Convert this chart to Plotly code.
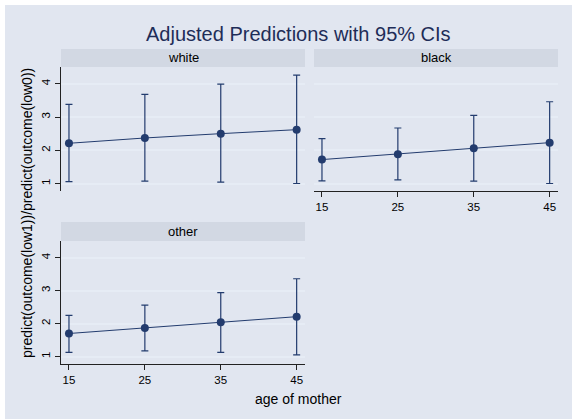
import plotly.graph_objects as go

# ---- data ----
ages = [15, 25, 35, 45]
panels = ["white", "black", "other"]
white_pred = [2.21, 2.37, 2.50, 2.62]
white_hi = [3.38, 3.68, 3.99, 4.26]
white_lo = [1.06, 1.07, 1.04, 1.00]
black_pred = [1.72, 1.88, 2.06, 2.23]
black_hi = [2.35, 2.67, 3.05, 3.46]
black_lo = [1.08, 1.11, 1.07, 1.00]
other_pred = [1.70, 1.87, 2.04, 2.21]
other_hi = [2.25, 2.56, 2.94, 3.36]
other_lo = [1.13, 1.17, 1.13, 1.05]
x_ticks = [15, 25, 35, 45]
y_ticks = [1, 2, 3, 4]

W, H = 573, 419
NAVY = "#233C6E"
BG = "#E1E6F0"
STRIP = "#D2D8E3"
GRID = "#E6ECF5"
FONT = "Liberation Sans"

def px(v):
    return v / W

def py(v):
    return 1 - v / H

fig = go.Figure()

series = [(white_pred, white_hi, white_lo), (black_pred, black_hi, black_lo), (other_pred, other_hi, other_lo)]
for i, (pred, hi, lo) in enumerate(series):
    n = "" if i == 0 else str(i + 1)
    fig.add_trace(go.Scatter(
        x=ages, y=pred, mode="lines+markers",
        line=dict(color=NAVY, width=1),
        marker=dict(color=NAVY, size=8),
        error_y=dict(type="data", symmetric=False,
                     array=[h - p for h, p in zip(hi, pred)],
                     arrayminus=[p - l for p, l in zip(pred, lo)],
                     color=NAVY, thickness=1.2, width=3.5),
        xaxis="x" + n, yaxis="y" + n, showlegend=False, hoverinfo="skip"))

xdom_left = [px(61), px(305)]
xdom_right = [px(314), px(558)]
ydom_top = [py(191), py(67)]
ydom_bot = [py(364), py(241)]
xr = [13.95, 46.1]
yr = [0.775, 4.505]

common_y = dict(range=yr, tickvals=y_ticks, gridcolor=GRID, gridwidth=1.5,
                zeroline=False, tickangle=-90,
                tickfont=dict(family=FONT, size=11.5, color="black"))
common_x = dict(range=xr, tickvals=x_ticks, showgrid=False, zeroline=False,
                tickfont=dict(family=FONT, size=11.5, color="black"))

axis_line = dict(showline=True, linecolor="#222222", linewidth=1,
                 ticks="outside", ticklen=5, tickcolor="#222222", tickwidth=1)

fig.update_layout(
    width=W, height=H,
    margin=dict(l=0, r=0, t=0, b=0),
    paper_bgcolor="white", plot_bgcolor="white",
    xaxis=dict(domain=xdom_left, anchor="y", showticklabels=False, **common_x),
    yaxis=dict(domain=ydom_top, anchor="x", **common_y, **axis_line),
    xaxis2=dict(domain=xdom_right, anchor="y2", **common_x, **axis_line),
    yaxis2=dict(domain=ydom_top, anchor="x2", showticklabels=False, **common_y),
    xaxis3=dict(domain=xdom_left, anchor="y3", **common_x, **axis_line),
    yaxis3=dict(domain=ydom_bot, anchor="x3", **common_y, **axis_line),
)

shapes = [
    dict(type="rect", xref="paper", yref="paper", x0=px(5), x1=px(572), y0=py(419), y1=py(5),
         fillcolor=BG, line=dict(width=0), layer="below"),
    dict(type="rect", xref="paper", yref="paper", x0=px(61), x1=px(305), y0=py(67), y1=py(49),
         fillcolor=STRIP, line=dict(width=0), layer="below"),
    dict(type="rect", xref="paper", yref="paper", x0=px(314), x1=px(558), y0=py(67), y1=py(49),
         fillcolor=STRIP, line=dict(width=0), layer="below"),
    dict(type="rect", xref="paper", yref="paper", x0=px(61), x1=px(305), y0=py(241), y1=py(222),
         fillcolor=STRIP, line=dict(width=0), layer="below"),
]
fig.update_layout(shapes=shapes)

strip_pos = [((61 + 305) / 2, 58), ((314 + 558) / 2, 58), ((61 + 305) / 2, 231.5)]
ann = []
for name, (cx, cy) in zip(panels, strip_pos):
    ann.append(dict(text=name, x=px(cx), y=py(cy), xref="paper", yref="paper",
                    showarrow=False, xanchor="center", yanchor="middle",
                    font=dict(family=FONT, size=13, color="black")))
ann.append(dict(text="Adjusted Predictions with 95% CIs", x=px(298), y=py(34), xref="paper", yref="paper",
                showarrow=False, xanchor="center", yanchor="middle",
                font=dict(family=FONT, size=20, color="#1E2D58")))
ann.append(dict(text="age of mother", x=px(298), y=py(399), xref="paper", yref="paper",
                showarrow=False, xanchor="center", yanchor="middle",
                font=dict(family=FONT, size=14, color="black")))
ann.append(dict(text="predict(outcome(low1))/predict(outcome(low0))", x=px(27), y=py(213),
                xref="paper", yref="paper", textangle=-90,
                showarrow=False, xanchor="center", yanchor="middle",
                font=dict(family=FONT, size=14, color="black")))
fig.update_layout(annotations=ann)

fig.write_html("out.html", config={"displayModeBar": False},
               post_script="document.body.style.margin='0';document.body.style.overflow='hidden';")
